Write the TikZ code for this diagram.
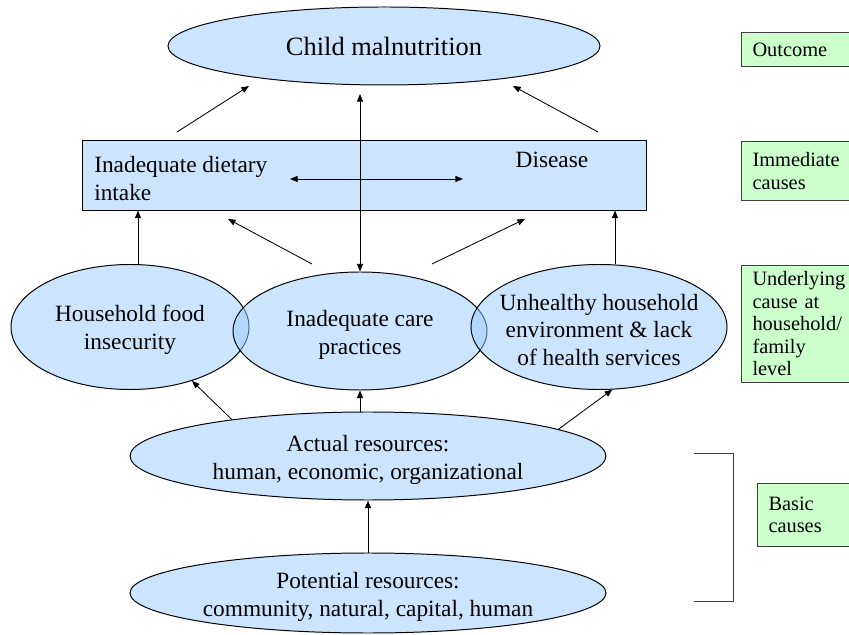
\documentclass[tikz,border=0pt]{standalone}
\usepackage{fontspec}
\setmainfont{Liberation Serif}
\usepackage{xcolor}
\usetikzlibrary{arrows.meta,shapes.geometric}

\definecolor{ovalblue}{RGB}{153,203,255}
\definecolor{levgreen}{RGB}{204,255,204}
\definecolor{levedge}{RGB}{64,64,64}

\begin{document}
\begin{tikzpicture}[
    >={Triangle[length=1.9mm,width=1.5mm]},
    oval/.style     = {ellipse, draw, line width=0.7pt, fill=ovalblue, fill opacity=0.5,
                       inner sep=0pt},
    causebox/.style = {rectangle, draw, line width=0.7pt, fill=ovalblue, fill opacity=0.5,
                       inner sep=0pt},
    txt/.style      = {font=\fontsize{16.6}{19.9}\selectfont, align=center, inner sep=0pt},
    ttl/.style      = {font=\fontsize{18.8}{22}\selectfont, inner sep=0pt},
    lev/.style      = {draw=levedge, line width=0.7pt, fill=levgreen, anchor=north west,
                       text width=2.925cm, inner xsep=0.275cm, inner ysep=1pt, align=left,
                       font=\fontsize{14.5}{16}\selectfont},
    ar/.style       = {->, line width=0.6pt},
    dar/.style      = {<->, line width=0.6pt},
]
\useasboundingbox (0,0) rectangle (21.225,15.85);
\clip (0,0) rectangle (21.225,15.85);

% ============ outcome ============
\node[oval, minimum width=10.8cm, minimum height=1.95cm] (mal) at (9.6,14.7) {};
\node[ttl] (maltxt) at (mal) {Child malnutrition};

% ============ immediate causes ============
\node[causebox, minimum width=14.1cm, minimum height=1.75cm] (imm) at (9.1,11.475) {};
\node[txt, align=left, anchor=west] (diet) at (2.35,11.385) {Inadequate dietary\\intake};
\node[txt] (dis) at (13.8,11.85) {Disease};

% ============ underlying causes ============
\node[oval, minimum width=5.95cm, minimum height=3.125cm] (food) at (3.25,7.675) {};
\node[oval, minimum width=6.35cm, minimum height=2.95cm]  (care) at (9.0,7.575) {};
\node[oval, minimum width=6.4cm,  minimum height=3.125cm] (unh)  at (14.975,7.675) {};
\node[txt] (foodtxt) at (3.25,7.6)   {Household food\\insecurity};
\node[txt] (caretxt) at (9.0,7.475)  {Inadequate care\\practices};
\node[txt] (unhtxt)  at (14.975,7.6) {Unhealthy household\\environment \& lack\\of health services};

% ============ basic causes ============
\node[oval, minimum width=11.9cm, minimum height=2.2cm] (act) at (9.2,4.45) {};
\node[oval, minimum width=11.9cm, minimum height=2.0cm] (pot) at (9.2,1.025) {};
\node[txt] (acttxt) at (9.2,4.35)  {Actual resources:\\human, economic, organizational};
\node[txt] (pottxt) at (9.2,0.925) {Potential resources:\\community, natural, capital, human};

% free ends of the connectors
\coordinate (malL)  at (6.225,13.7);
\coordinate (malR)  at (12.825,13.7);
\coordinate (malC)  at (9.0,13.5);
\coordinate (immL)  at (4.425,12.55);
\coordinate (immR)  at (14.95,12.55);
\coordinate (dietR) at (7.25,11.375);
\coordinate (disL)  at (11.575,11.375);
\coordinate (careL) at (7.8,9.25);
\coordinate (careR) at (10.8,9.25);
\coordinate (immLo) at (5.7,10.375);
\coordinate (immRo) at (13.125,10.375);

% immediate -> outcome
\draw[ar]  (immL) -- (malL);
\draw[ar]  (immR) -- (malR);
\draw[dar] (care.north) -- (malC);
\draw[dar] (dietR) -- (disL);
% underlying -> immediate
\draw[ar] ([xshift=0.2cm]food.north) -- ([xshift=0.2cm]food.north |- imm.south);
\draw[ar] ([xshift=0.4cm]unh.north) -- ([xshift=0.4cm]unh.north |- imm.south);
\draw[ar] (careL) -- (immLo);
\draw[ar] (careR) -- (immRo);
% basic -> underlying
\draw[ar] (act.165) -- (food.-41);
\draw[ar] (care.south |- act.north) -- (care.south);
\draw[ar] (act.8) -- (unh.-78);
\draw[ar] (pot.north) -- (act.south);

% ============ level labels ============
\node[lev, minimum height=0.85cm]  (levout) at (18.525,15.05)  {Outcome};
\node[lev, minimum height=1.475cm] (levimm) at (18.525,12.325) {Immediate\\causes};
\node[lev, minimum height=2.925cm] (levund) at (18.525,9.225)  {Underlying\\cause at\\household/\\family\\level};
\node[lev, minimum height=1.575cm] (levbas) at (18.925,3.775)  {Basic\\causes};
\draw[line width=0.7pt, levedge] (17.35,4.525) -- (18.325,4.525) -- (18.325,0.825) -- (17.35,0.825);

\end{tikzpicture}
\end{document}
